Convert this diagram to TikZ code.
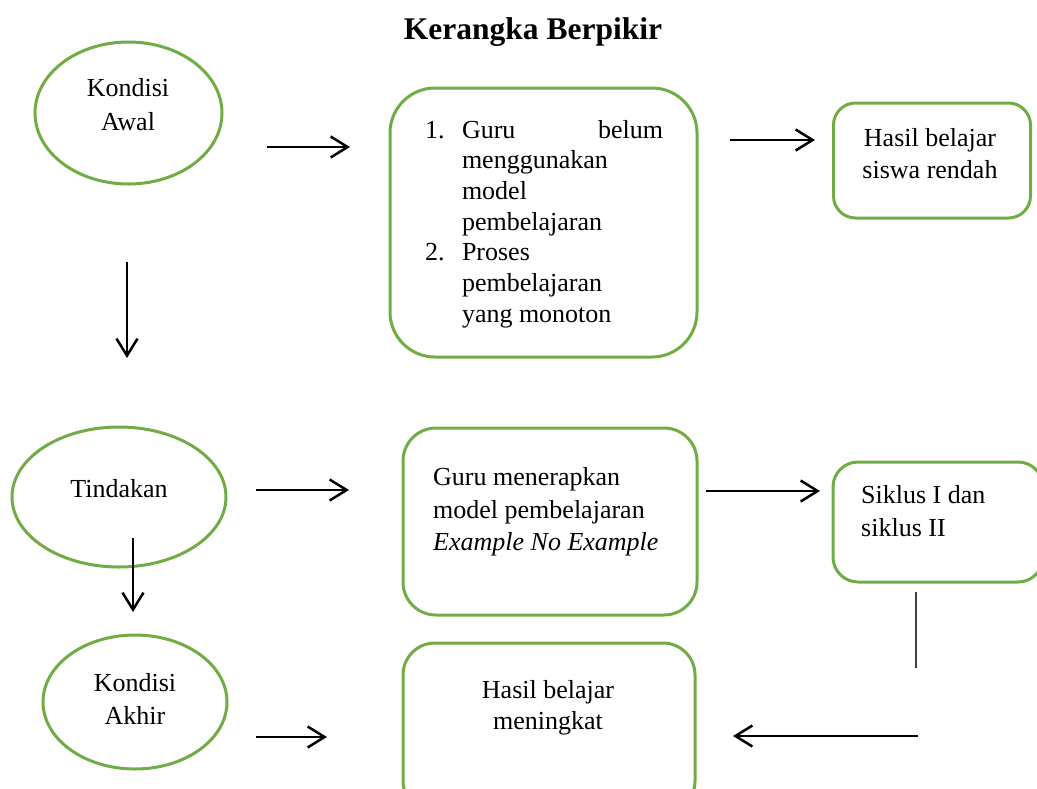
\documentclass[tikz,border=0pt]{standalone}
\usepackage{fontspec}
\setmainfont{Liberation Serif}
\usetikzlibrary{arrows.meta,shapes.geometric}
\definecolor{boxgreen}{HTML}{70AD47}
\definecolor{linegray}{HTML}{404040}
\tikzset{
  ell/.style={ellipse,draw=boxgreen,line width=3pt,inner sep=0pt},
  rbox/.style={rectangle,draw=boxgreen,line width=3pt,inner sep=0pt},
  txt/.style={inner sep=0pt,font=\fontsize{26}{32}\selectfont},
  arr/.style={line width=2.5pt,-{Straight Barb[length=17pt,width=21pt,line width=2.5pt]}},
  plain/.style={line width=2pt,draw=linegray}
}
\begin{document}
\begin{tikzpicture}[x=1pt,y=-1pt]
\useasboundingbox (0,0) rectangle (1037,788);
% title
\node[inner sep=0pt,font=\fontsize{31.5}{36}\selectfont\bfseries] (title) at (533,32) {Kerangka Berpikir};
% ellipses
\node[ell,minimum width=187pt,minimum height=142pt] (e1) at (128.5,113) {};
\node[txt,align=center,font=\fontsize{26}{34}\selectfont] (t1) at (128,105) {Kondisi\\Awal};
\node[ell,minimum width=214pt,minimum height=140pt] (e2) at (119,497) {};
\node[txt] (t2) at (119,489) {Tindakan};
\node[ell,minimum width=184pt,minimum height=134pt] (e3) at (135,702) {};
\node[txt,align=center,font=\fontsize{26}{33}\selectfont] (t3) at (135,699) {Kondisi\\Akhir};
% boxes
\node[rbox,rounded corners=45pt,minimum width=307pt,minimum height=269pt] (b1) at (543.5,222.5) {};
\node[txt,align=left,font=\fontsize{26}{30.7}\selectfont] (tb1) at (544,224) {%
\makebox[37pt][l]{1.}\makebox[201pt][l]{Guru\hfill belum}\\
\hspace*{37pt}menggunakan\\
\hspace*{37pt}model\\
\hspace*{37pt}pembelajaran\\
\makebox[37pt][l]{2.}Proses\\
\hspace*{37pt}pembelajaran\\
\hspace*{37pt}yang monoton};
\node[rbox,rounded corners=22pt,minimum width=197pt,minimum height=115pt] (b2) at (932,160.5) {};
\node[txt,align=center] (tb2) at (930,154) {Hasil belajar\\siswa rendah};
\node[rbox,rounded corners=33pt,minimum width=294pt,minimum height=187pt] (b3) at (550,521.5) {};
\node[txt,align=left,font=\fontsize{26}{32.5}\selectfont,anchor=west] (tb3) at (433,512) {Guru menerapkan\\model pembelajaran\\\textit{Example No Example}};
\node[rbox,rounded corners=25pt,minimum width=210pt,minimum height=120pt] (b4) at (938,522) {};
\node[txt,align=left,font=\fontsize{26}{33}\selectfont,anchor=west] (tb4) at (861,511.5) {Siklus I dan\\siklus II};
\node[rbox,rounded corners=32pt,minimum width=292pt,minimum height=170pt] (b5) at (549,728) {};
\node[txt,align=center,font=\fontsize{26}{31}\selectfont] (tb5) at (548,707.5) {Hasil belajar\\meningkat};
% connector end points
\coordinate (a1s) at (267,147); \coordinate (a1e) at (350,147);
\coordinate (a2s) at (730,140); \coordinate (a2e) at (815,140);
\coordinate (d1s) at (127,262); \coordinate (d1e) at (127,358);
\coordinate (a3s) at (256,490); \coordinate (a3e) at (349,490);
\coordinate (a4s) at (706,491); \coordinate (a4e) at (820,491);
\coordinate (d2s) at (133,538); \coordinate (d2e) at (133,612);
\coordinate (a5s) at (256,737); \coordinate (a5e) at (327,737);
\coordinate (vls) at (916,592); \coordinate (vle) at (916,668);
\coordinate (a6s) at (918,736); \coordinate (a6e) at (733,736);
% connectors
\draw[arr] (a1s) -- (a1e);
\draw[arr] (a2s) -- (a2e);
\draw[arr] (d1s) -- (d1e);
\draw[arr] (a3s) -- (a3e);
\draw[arr] (a4s) -- (a4e);
\draw[arr] (d2s) -- (d2e);
\draw[arr] (a5s) -- (a5e);
\draw[plain] (vls) -- (vle);
\draw[arr] (a6s) -- (a6e);
\end{tikzpicture}
\end{document}
